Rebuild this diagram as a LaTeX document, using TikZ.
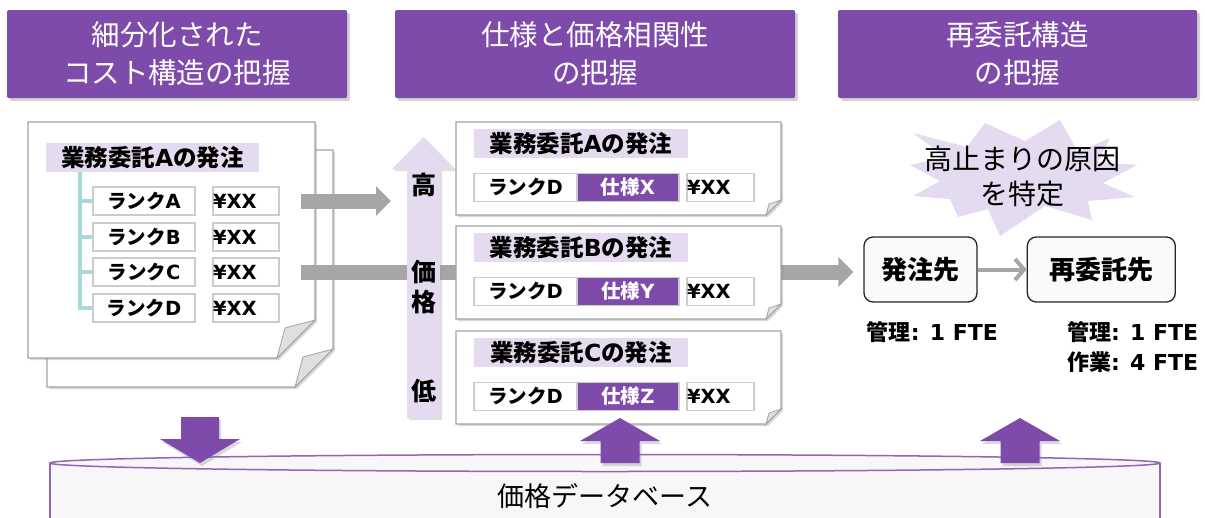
\documentclass[tikz,border=0pt]{standalone}
\usepackage{fontspec}
\setmainfont{Noto Sans CJK JP}
\newfontfamily\latfont{DejaVu Sans}
\newcommand{\lat}[1]{{\latfont #1}}
\usetikzlibrary{arrows.meta,shadows,positioning}

\definecolor{hdpurple}{HTML}{7E4BAB}
\definecolor{lavender}{HTML}{E5DBF0}
\definecolor{treeteal}{HTML}{A6D9DA}
\definecolor{arrowgray}{HTML}{A6A6A6}
\definecolor{pagegray}{HTML}{A3A3A3}
\definecolor{dbfill}{HTML}{F7F7F7}

\tikzset{
  header/.style={fill=hdpurple, text=white, align=center, minimum height=88pt, rounded corners=1.5pt,
    font=\fontsize{28.5}{38}\selectfont, drop shadow={shadow xshift=3pt, shadow yshift=-3pt, opacity=0.35}},
  page/.style={draw=pagegray, line width=1.2pt, fill=white, drop shadow={shadow xshift=2pt, shadow yshift=-2pt, opacity=0.3}},
  fold/.style={fill=gray!25, draw=pagegray, line width=0.8pt},
  band/.style={fill=lavender, minimum height=29pt, inner sep=0pt, font=\bfseries\fontsize{23.5}{25}\selectfont},
  cell/.style={draw=gray!40, line width=1.5pt, fill=white, minimum height=28pt, inner sep=0pt,
    font=\bfseries\fontsize{19.5}{21}\selectfont},
  spec/.style={cell, fill=hdpurple, text=white},
  yen/.style={cell, text width=66pt, align=left},
  tree/.style={treeteal, line width=4pt},
  grayarrow/.style={arrowgray, line width=15pt, -{Triangle[length=15pt,width=29pt]}},
  lvl/.style={font=\bfseries\fontsize{25}{30}\selectfont, align=center},
  blockarrow/.style={fill=hdpurple, drop shadow={shadow xshift=2pt, shadow yshift=-3pt, opacity=0.3}},
  party/.style={draw=black!85, line width=1.3pt, fill=gray!4, rounded corners=9pt, minimum height=65pt,
    font=\bfseries\fontsize{26}{28}\selectfont},
  fte/.style={font=\bfseries\fontsize{22}{30}\selectfont, align=left, inner sep=0pt}
}

\begin{document}
\begin{tikzpicture}[x=1pt,y=-1pt]
\useasboundingbox (0,0) rectangle (1205,517);
\clip (0,0) rectangle (1205,517);

% headers
\node[header, minimum width=340pt] (hdcost) at (177,54) {細分化された\\コスト構造の把握};
\node[header, minimum width=400pt] (hdspec) at (595,54) {仕様と価格相関性\\の把握};
\node[header, minimum width=359pt] (hdsub) at (1017.5,54) {再委託構造\\の把握};

% right part: the burst behind the finding
\fill[lavender] (1060,120) -- (1078,152) -- (1110,138) -- (1098,162) -- (1137,165) -- (1103,183)
  -- (1135,197) -- (1088,201) -- (1092,220) -- (1045,206) -- (1000,236) -- (988,209)
  -- (958,217) -- (950,199) -- (913,196) -- (940,181) -- (910,165) -- (945,157)
  -- (913,133) -- (967,147) -- (985,123) -- (1025,141) -- cycle;
\node[align=center, font=\fontsize{28}{35}\selectfont] (cause) at (1022,176) {高止まりの原因\\を特定};
\node[party, minimum width=113pt] (ord) at (920.5,269.5) {発注先};
\node[party, minimum width=148pt, right=49pt of ord] (sub) {再委託先};
\draw[line width=4pt, arrowgray, -{Straight Barb[length=9pt,width=21pt]}] (ord) -- (sub);
\node[fte, below=19pt of ord, xshift=12pt] (ordfte) {管理\lat{: 1 FTE}};
\node[fte, anchor=north west] (subfte) at (1067,321) {管理\lat{: 1 FTE}\\作業\lat{: 4 FTE}};

% left document, two sheets
\draw[page] (47,150) -- (333,150) -- (333,349) -- (295,387) -- (47,387) -- cycle;
\filldraw[fold] (333,349) -- (303,357) -- (295,387) -- cycle;
\draw[page] (28,122) -- (315,122) -- (315,320) -- (277,358) -- (28,358) -- cycle;
\filldraw[fold] (315,320) -- (285,328) -- (277,358) -- cycle;

\node[band, minimum width=213pt] (bandL) at (152.5,157.5) {業務委託\lat{A}の発注};
\foreach \r/\yy in {A/201,B/237,C/272,D/308}{
  \node[cell, minimum width=102pt] (rk\r) at (144,\yy) {ランク\lat{\r}};
  \node[yen] (yen\r) at (246,\yy) {\lat{¥XX}};
}
\coordinate (trunk) at (80,172);
\draw[tree] (trunk) |- (rkD.west);
\foreach \r in {A,B,C}
  \draw[tree] (trunk |- rk\r.west) -- (rk\r.west);

% gray arrows
\coordinate (pricehead) at (391,201);
\draw[grayarrow] ([xshift=21pt]yenC.east) -- ([xshift=-10pt]ord.west |- yenC.east);
\draw[grayarrow] ([xshift=21pt]yenA.east) -- (pricehead);

% price axis
\fill[lavender, drop shadow={shadow xshift=2pt, shadow yshift=-2pt, opacity=0.25}]
  (407,418) -- (407,169) -- (392,169) -- (423.5,137) -- (455,169) -- (440,169) -- (440,418) -- cycle;
\node[lvl] (high) at (423.5,185) {高};
\node[lvl] (price) at (423.5,287) {価\\格};
\node[lvl] (low) at (423.5,391) {低};

% orders by spec
\foreach \y/\n/\s in {122/A/X,226/B/Y,331/C/Z}{
  \draw[page] (456,\y) -- (781,\y) -- (781,\y+78) -- (766,\y+93) -- (456,\y+93) -- cycle;
  \filldraw[fold] (781,\y+78) -- (769,\y+82) -- (766,\y+93) -- cycle;
  \node[band, minimum width=214pt] (band\n) at (581,\y+21.5) {業務委託\lat{\n}の発注};
  \node[cell, minimum width=103pt] (rkm\n) at (525.5,\y+65.5) {ランク\lat{D}};
  \node[spec, minimum width=102pt] (sp\n) at (628,\y+65.5) {仕様\lat{\s}};
  \node[yen, text width=67pt] (yenm\n) at (720.5,\y+65.5) {\lat{¥XX}};
}

% database
\fill[dbfill] (50,463) rectangle (1160,530);
\draw[hdpurple!85, line width=1.5pt] (50,463) -- (50,530) (1160,463) -- (1160,530);
\draw[hdpurple!85, line width=1.5pt, fill=dbfill] (605,463) ellipse [x radius=555, y radius=8.5];
\node[font=\fontsize{27}{30}\selectfont] (db) at (605,496) {価格データベース};

% block arrows to and from the database
\fill[blockarrow] (181,417) -- (219,417) -- (219,439) -- (240,439) -- (200,463) -- (160,439) -- (181,439) -- cycle;
\foreach \cx in {620,1020}
  \fill[blockarrow] (\cx-19.5,463) -- (\cx-19.5,441) -- (\cx-40,441) -- (\cx,418) -- (\cx+40,441) -- (\cx+19.5,441) -- (\cx+19.5,463) -- cycle;
\end{tikzpicture}
\end{document}
